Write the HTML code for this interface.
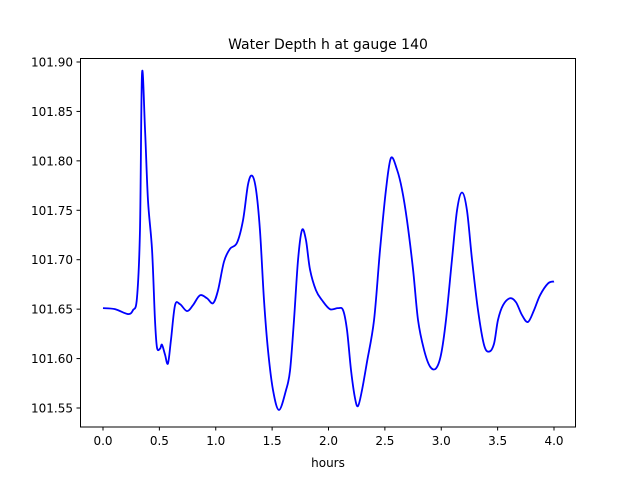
<!DOCTYPE html>
<html><head><meta charset="utf-8"><style>
body{margin:0;background:#fff}
svg{display:block;font-family:"DejaVu Sans","Liberation Sans",sans-serif}
</style></head><body>
<svg width="640" height="480" id="chart">
<rect width="640" height="480" fill="#fff"/>
<text x="328" y="49" text-anchor="middle" font-size="14">Water Depth h at gauge 140</text>
<text x="328" y="467" text-anchor="middle" font-size="12">hours</text>
<g id="ticks"></g>
<path id="line" fill="none" stroke="#0000ff" stroke-width="1.8"/>
<rect x="80.5" y="58.5" width="495" height="368.5" fill="none" stroke="#000" stroke-width="1"/>
</svg>
<script>
const hours=[0,0.106,0.222,0.266,0.301,0.328,0.346,0.373,0.399,0.435,0.461,0.479,0.506,0.523,0.550,0.576,0.603,0.639,0.683,0.745,0.798,0.860,0.922,0.976,1.020,1.073,1.126,1.188,1.242,1.286,1.322,1.357,1.392,1.428,1.463,1.508,1.561,1.623,1.659,1.694,1.730,1.765,1.800,1.836,1.889,1.943,2.013,2.084,2.129,2.164,2.200,2.235,2.262,2.297,2.342,2.404,2.457,2.510,2.554,2.608,2.652,2.696,2.750,2.794,2.847,2.900,2.953,2.998,3.042,3.095,3.140,3.184,3.228,3.273,3.326,3.379,3.424,3.468,3.503,3.548,3.610,3.663,3.716,3.769,3.823,3.876,3.947,4.0];
const depth=[101.651,101.650,101.645,101.649,101.661,101.730,101.888,101.831,101.760,101.710,101.639,101.611,101.610,101.614,101.604,101.595,101.619,101.654,101.655,101.648,101.654,101.664,101.661,101.656,101.669,101.698,101.711,101.717,101.740,101.776,101.785,101.771,101.730,101.659,101.609,101.568,101.548,101.568,101.588,101.639,101.700,101.730,101.720,101.690,101.669,101.659,101.650,101.651,101.649,101.629,101.588,101.560,101.552,101.568,101.597,101.639,101.710,101.771,101.803,101.791,101.771,101.740,101.690,101.639,101.609,101.592,101.590,101.604,101.639,101.700,101.750,101.768,101.750,101.700,101.649,101.614,101.607,101.615,101.639,101.654,101.661,101.657,101.644,101.637,101.649,101.664,101.676,101.678];
const xTicks=[0,0.5,1,1.5,2,2.5,3,3.5,4];
const yTicks=[101.55,101.60,101.65,101.70,101.75,101.80,101.85,101.90];
const xs=h=>103+h*112.75;
const ys=v=>408-(v-101.55)*988.6;
const NS="http://www.w3.org/2000/svg";
const g=document.getElementById('ticks');
function mk(tag,attrs){const e=document.createElementNS(NS,tag);for(const k in attrs)e.setAttribute(k,attrs[k]);g.appendChild(e);return e;}
xTicks.forEach(t=>{const x=xs(t);
 const l=mk('line',{x1:x,x2:x,y1:427,y2:430.5,stroke:'#000'});
 
 
 const tx=mk('text',{x:x,y:445,'text-anchor':'middle','font-size':'12'});
 tx.textContent=t.toFixed(1);
 
 
});
yTicks.forEach(t=>{const y=ys(t);
 const l=mk('line',{x1:76.5,x2:80,y1:y,y2:y,stroke:'#000'});
 
 
 const tx=mk('text',{x:73,y:y+4.5,'text-anchor':'end','font-size':'12'});
 tx.textContent=t.toFixed(2);
 
 
});
const P=hours.map((h,i)=>[xs(h),ys(depth[i])]);
let d='M'+P[0][0]+','+P[0][1];
for(let i=0;i<P.length-1;i++){
 const p0=P[Math.max(0,i-1)],p1=P[i],p2=P[i+1],p3=P[Math.min(P.length-1,i+2)];
 const c1=[p1[0]+(p2[0]-p0[0])/6,p1[1]+(p2[1]-p0[1])/6];
 const c2=[p2[0]-(p3[0]-p1[0])/6,p2[1]-(p3[1]-p1[1])/6];
 d+=` C${c1[0]},${c1[1]} ${c2[0]},${c2[1]} ${p2[0]},${p2[1]}`;
}
document.getElementById('line').setAttribute('d',d);
</script>
</body></html>
